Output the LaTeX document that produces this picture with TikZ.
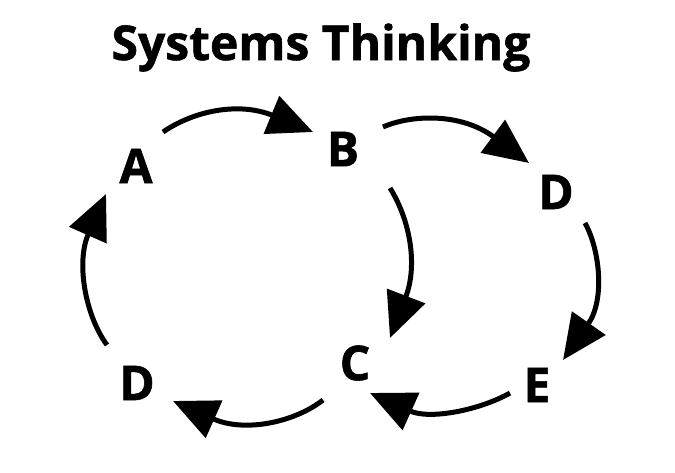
\documentclass[tikz,border=0pt]{standalone}
\usepackage{fontspec}
\setmainfont{Open Sans}[BoldFeatures={FakeBold=1.2}]
\usetikzlibrary{arrows.meta}
\begin{document}
\begin{tikzpicture}[x=1pt,y=-1pt,
  lbl/.style={font=\fontsize{48}{48}\selectfont\bfseries,inner sep=0pt,anchor=center},
  ttl/.style={font=\fontsize{48}{48}\selectfont\bfseries,inner sep=0pt,anchor=base},
  loop/.style={line width=5pt,-{Triangle[length=45pt,width=40pt]}}]
\useasboundingbox[fill=white] (0,0) rectangle (675,472);
\node[ttl] (title) at (321,60) {Systems Thinking};
\node[lbl] (A) at (136,166) {A};
\node[lbl] (B) at (343,149) {B};
\node[lbl] (D1) at (556,192) {D};
\node[lbl] (C) at (355,363) {C};
\node[lbl] (D2) at (137,383) {D};
\node[lbl] (E) at (537,385) {E};
% connector ends
\coordinate (ab0) at (163,132); \coordinate (ab1) at (313,132);
\coordinate (bd0) at (383,127); \coordinate (bd1) at (529,163);
\coordinate (bc0) at (390,188); \coordinate (bc1) at (390,338);
\coordinate (de0) at (585,223); \coordinate (de1) at (563,360);
\coordinate (ec0) at (510,393); \coordinate (ec1) at (370,393);
\coordinate (cd0) at (323,400); \coordinate (cd1) at (173,401);
\coordinate (da0) at (107,345); \coordinate (da1) at (106,194);
\draw[loop] (ab0) .. controls (195,110) and (240,102) .. (ab1);
\draw[loop] (bd0) .. controls (410,115) and (460,112) .. (bd1);
\draw[loop] (bc0) .. controls (410,220) and (418,265) .. (bc1);
\draw[loop] (de0) .. controls (600,250) and (605,300) .. (de1);
\draw[loop] (ec0) .. controls (480,410) and (430,420) .. (ec1);
\draw[loop] (cd0) .. controls (295,422) and (245,433) .. (cd1);
\draw[loop] (da0) .. controls (85,315) and (76,262) .. (da1);
\end{tikzpicture}
\end{document}
